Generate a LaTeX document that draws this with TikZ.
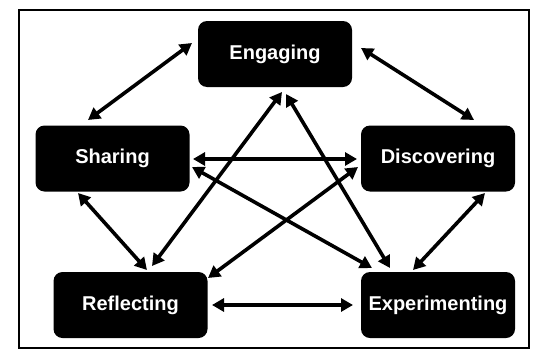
\documentclass[tikz,border=0pt]{standalone}
\usepackage{fontspec}
\setmainfont{Liberation Sans}
\usetikzlibrary{arrows.meta}
\begin{document}
\begin{tikzpicture}[x=1pt,y=-1pt,
  box/.style={fill=black,rounded corners=9pt,minimum width=154pt,minimum height=66pt,inner sep=0pt,
    text=white,font=\fontsize{20}{24}\selectfont\bfseries},
  link/.style={line width=3.6pt,{Triangle[length=12pt,width=13pt]}-{Triangle[length=12pt,width=13pt]}}]
\useasboundingbox (0,0) rectangle (540,351);
\draw[line width=2.8pt] (19,10) rectangle (529,348);
\node[box] (E) at (275,54) {Engaging};
\node[box] (S) at (112.5,158.5) {Sharing};
\node[box] (D) at (438,158.5) {Discovering};
\node[box] (R) at (130.5,305) {Reflecting};
\node[box] (X) at (438,305) {Experimenting};
\draw[link] ([shift={(-83,-11)}]E.center) -- ([shift={(-24.5,-38.5)}]S.center);
\draw[link] ([shift={(86,-6)}]E.center) -- ([shift={(36,-38.5)}]D.center);
\draw[link] ([shift={(80.5,0.5)}]S.center) -- ([shift={(-81,0.5)}]D.center);
\draw[link] ([shift={(81.5,0)}]R.center) -- ([shift={(-85,0)}]X.center);
\draw[link] ([shift={(-34.5,34.5)}]S.center) -- ([shift={(16.5,-35)}]R.center);
\draw[link] ([shift={(47,34.5)}]D.center) -- ([shift={(-25,-35)}]X.center);
\draw[link] ([shift={(7,38)}]E.center) -- ([shift={(21.5,-39)}]R.center);
\draw[link] ([shift={(11,40)}]E.center) -- ([shift={(-48,-37)}]X.center);
\draw[link] ([shift={(79.5,8.5)}]S.center) -- ([shift={(-66,-37)}]X.center);
\draw[link] ([shift={(-80,8.5)}]D.center) -- ([shift={(77.5,-27)}]R.center);
\end{tikzpicture}
\end{document}
